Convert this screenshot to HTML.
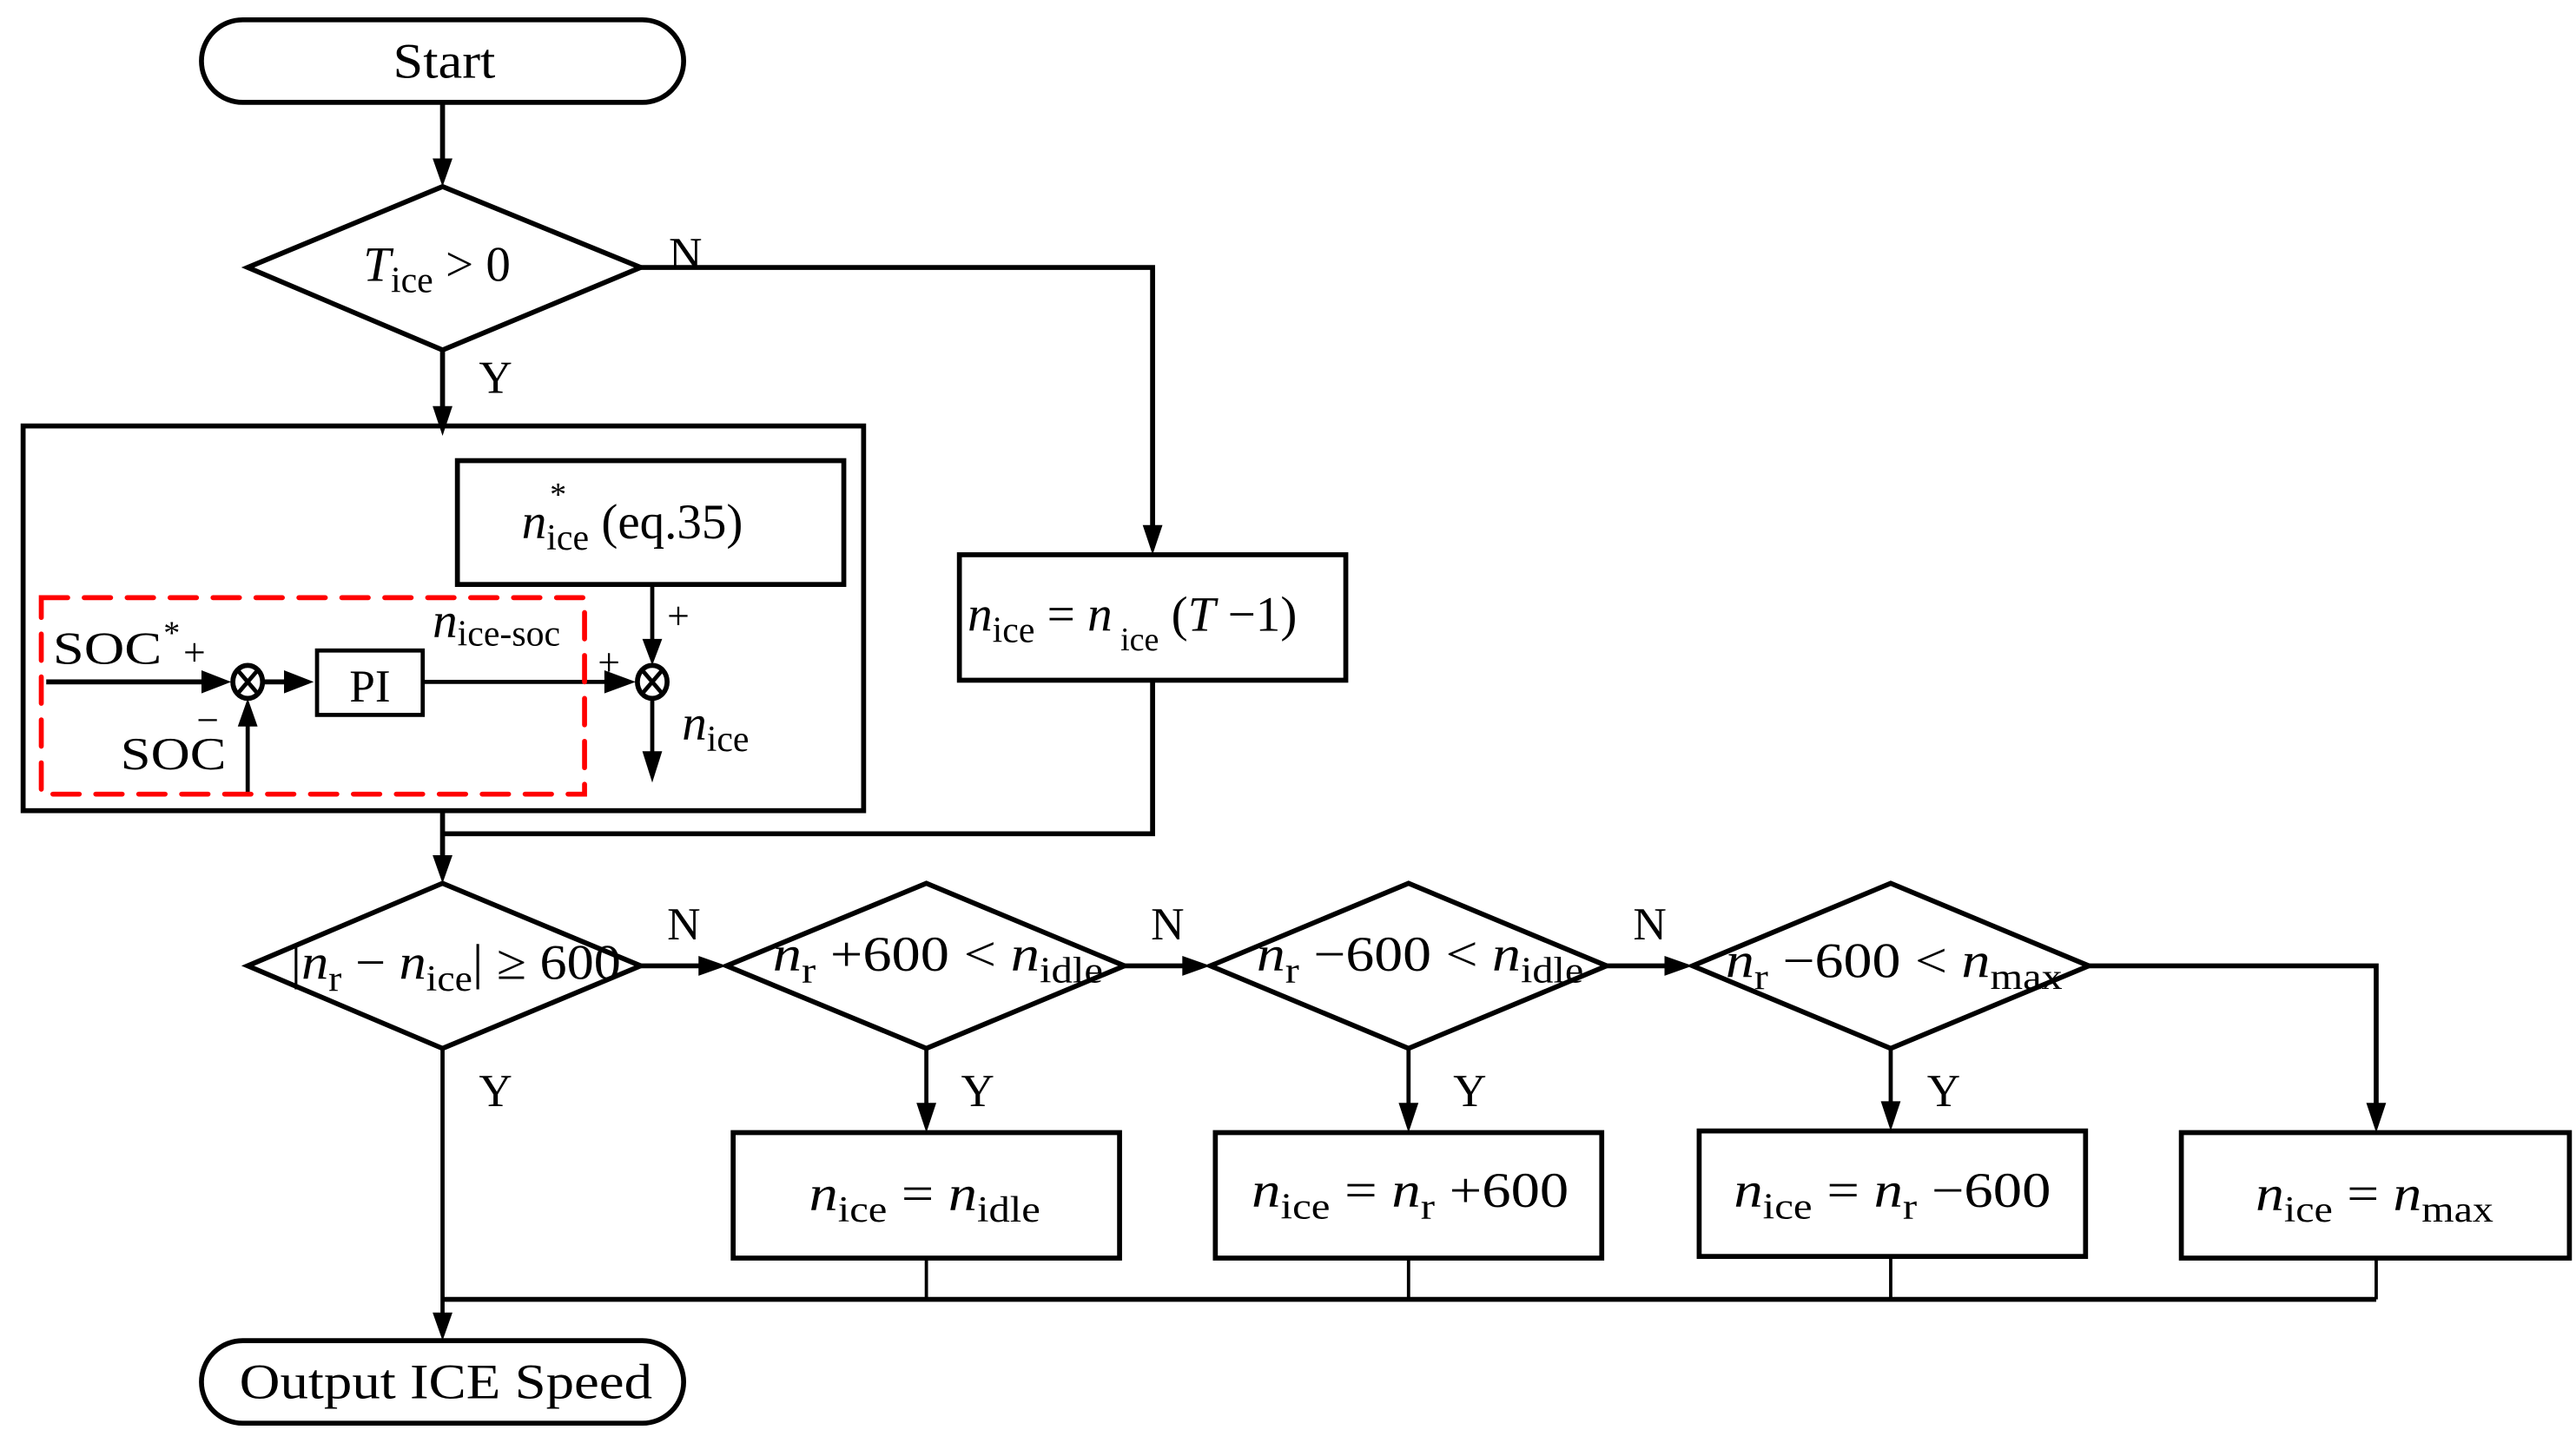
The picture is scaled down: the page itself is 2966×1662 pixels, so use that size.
<!DOCTYPE html>
<html><head><meta charset="utf-8"><style>
html,body{margin:0;padding:0;background:#fff;}
svg{display:block;}
text{font-family:"Liberation Serif",serif;fill:#000;}
.i{font-style:italic;}
</style></head><body>
<svg width="2966" height="1662" viewBox="0 0 1560 874" preserveAspectRatio="none" xmlns="http://www.w3.org/2000/svg">
<g fill="none" stroke="#000" stroke-width="3">
<rect x="122" y="12" width="292" height="50" rx="25"/>
<polygon points="150,162 268,113 388,162 268,212"/>
<rect x="14" y="258" width="509" height="233"/>
<rect x="277" y="279" width="234" height="75"/>
<rect x="192" y="394" width="64" height="39" stroke-width="2.5"/>
<rect x="581" y="336" width="234" height="76"/>
<polygon points="150,585 268,535 388,585 268,635"/>
<polygon points="440,585 561,535 681,585 561,635"/>
<polygon points="733,585 853,535 973,585 853,635"/>
<polygon points="1025,585 1145,535 1265,585 1145,635"/>
<rect x="444" y="686" width="234" height="76"/>
<rect x="736" y="686" width="234" height="76"/>
<rect x="1029" y="685" width="234" height="76"/>
<rect x="1321" y="686" width="235" height="76"/>
<rect x="122" y="812" width="292" height="50" rx="25"/>
<polyline points="268,62 268,100"/>
<polyline points="268,212 268,248"/>
<polyline points="388,162 698,162 698,322"/>
<polyline points="698,412 698,505 268,505"/>
<polyline points="268,491 268,522"/>
<polyline points="388,585 428,585"/>
<polyline points="681,585 721,585"/>
<polyline points="973,585 1013,585"/>
<polyline points="1265,585 1439,585 1439,672"/>
<polyline points="561,635 561,672" stroke-width="2.5"/>
<polyline points="853,635 853,672" stroke-width="2.5"/>
<polyline points="1145,635 1145,671" stroke-width="2.5"/>
<polyline points="268,635 268,798" stroke-width="2.5"/>
<polyline points="561,762 561,787" stroke-width="2"/>
<polyline points="853,762 853,787" stroke-width="2"/>
<polyline points="1145,761 1145,787" stroke-width="2"/>
<polyline points="1439,762 1439,787" stroke-width="2"/>
<polyline points="268,787 1439,787"/>
<polyline points="28,413 126,413"/>
<polyline points="160,413 180,413"/>
<polyline points="256,413 372,413" stroke-width="2.5"/>
<polyline points="395,354 395,392" stroke-width="2.5"/>
<polyline points="395,423 395,460" stroke-width="2.5"/>
<polyline points="150,480 150,436" stroke-width="2.5"/>
<ellipse cx="150" cy="413" rx="9" ry="10"/>
<ellipse cx="395" cy="413" rx="9" ry="10"/>
<line x1="144" y1="406" x2="156" y2="420" stroke-width="2.5"/>
<line x1="156" y1="406" x2="144" y2="420" stroke-width="2.5"/>
<line x1="389" y1="406" x2="401" y2="420" stroke-width="2.5"/>
<line x1="401" y1="406" x2="389" y2="420" stroke-width="2.5"/>
</g>
<rect x="25" y="362" width="329" height="119" fill="none" stroke="#f00" stroke-width="3" stroke-dasharray="16,10" stroke-linecap="round"/>
<g fill="#000">
<polygon points="262,96 274,96 268,113"/>
<polygon points="262,246 274,246 268,264"/>
<polygon points="692,318 704,318 698,336"/>
<polygon points="262,518 274,518 268,535"/>
<polygon points="423,579 423,591 440,585"/>
<polygon points="716,579 716,591 733,585"/>
<polygon points="1008,579 1008,591 1025,585"/>
<polygon points="555,668 567,668 561,686"/>
<polygon points="847,668 859,668 853,686"/>
<polygon points="1139,667 1151,667 1145,685"/>
<polygon points="1433,668 1445,668 1439,686"/>
<polygon points="262,795 274,795 268,812"/>
<polygon points="122,406 122,420 140,413"/>
<polygon points="172,406 172,420 190,413"/>
<polygon points="366,406 366,420 385,413"/>
<polygon points="389,387 401,387 395,403"/>
<polygon points="389,455 401,455 395,474"/>
<polygon points="144,440 156,440 150,423"/>
</g>
<g font-size="30">
<text x="238" y="47" textLength="62" lengthAdjust="spacingAndGlyphs">Start</text>
<text x="220" y="170"><tspan class="i">T</tspan><tspan font-size="22" dy="7">ice</tspan><tspan dy="-7"> &gt; 0</tspan></text>
<text x="405" y="163" font-size="28">N</text>
<text x="290" y="238" font-size="28">Y</text>
<text x="316" y="326"><tspan class="i">n</tspan><tspan font-size="22" dy="7">ice</tspan><tspan dy="-7"> (eq.35)</tspan></text>
<text x="333" y="306" font-size="20">*</text>
<text x="586" y="382"><tspan class="i">n</tspan><tspan font-size="22" dy="7">ice</tspan><tspan dy="-7"> = </tspan><tspan class="i">n</tspan><tspan font-size="20" dy="12"> ice</tspan><tspan dy="-12"> (</tspan><tspan class="i">T</tspan><tspan> −1)</tspan></text>
<text x="32" y="402" font-size="28" textLength="66" lengthAdjust="spacingAndGlyphs">SOC</text>
<text x="99" y="390" font-size="20">*</text>
<text x="111" y="403" font-size="24">+</text>
<text x="119" y="444" font-size="24">−</text>
<text x="73" y="466" font-size="28" textLength="64" lengthAdjust="spacingAndGlyphs">SOC</text>
<text x="224" y="425" text-anchor="middle" font-size="28">PI</text>
<text x="262" y="386"><tspan class="i">n</tspan><tspan font-size="22" dy="5">ice-soc</tspan></text>
<text x="362" y="409" font-size="24">+</text>
<text x="404" y="381" font-size="24">+</text>
<text x="413" y="448"><tspan class="i">n</tspan><tspan font-size="22" dy="7">ice</tspan></text>
<text x="176" y="593" textLength="200" lengthAdjust="spacingAndGlyphs"><tspan>|</tspan><tspan class="i">n</tspan><tspan font-size="22" dy="7">r</tspan><tspan dy="-7"> − </tspan><tspan class="i">n</tspan><tspan font-size="22" dy="7">ice</tspan><tspan dy="-7">| ≥ 600</tspan></text>
<text x="468" y="588" textLength="200" lengthAdjust="spacingAndGlyphs"><tspan class="i">n</tspan><tspan font-size="22" dy="7">r</tspan><tspan dy="-7"> +600 &lt; </tspan><tspan class="i">n</tspan><tspan font-size="22" dy="7">idle</tspan></text>
<text x="761" y="588" textLength="198" lengthAdjust="spacingAndGlyphs"><tspan class="i">n</tspan><tspan font-size="22" dy="7">r</tspan><tspan dy="-7"> −600 &lt; </tspan><tspan class="i">n</tspan><tspan font-size="22" dy="7">idle</tspan></text>
<text x="1045" y="592" textLength="204" lengthAdjust="spacingAndGlyphs"><tspan class="i">n</tspan><tspan font-size="22" dy="7">r</tspan><tspan dy="-7"> −600 &lt; </tspan><tspan class="i">n</tspan><tspan font-size="22" dy="7">max</tspan></text>
<text x="404" y="569" font-size="28">N</text>
<text x="697" y="569" font-size="28">N</text>
<text x="989" y="569" font-size="28">N</text>
<text x="290" y="670" font-size="28">Y</text>
<text x="582" y="670" font-size="28">Y</text>
<text x="880" y="670" font-size="28">Y</text>
<text x="1167" y="670" font-size="28">Y</text>
<text x="490" y="733" textLength="140" lengthAdjust="spacingAndGlyphs"><tspan class="i">n</tspan><tspan font-size="22" dy="7">ice</tspan><tspan dy="-7"> = </tspan><tspan class="i">n</tspan><tspan font-size="22" dy="7">idle</tspan></text>
<text x="758" y="731" textLength="192" lengthAdjust="spacingAndGlyphs"><tspan class="i">n</tspan><tspan font-size="22" dy="7">ice</tspan><tspan dy="-7"> = </tspan><tspan class="i">n</tspan><tspan font-size="22" dy="7">r</tspan><tspan dy="-7"> +600</tspan></text>
<text x="1050" y="731" textLength="192" lengthAdjust="spacingAndGlyphs"><tspan class="i">n</tspan><tspan font-size="22" dy="7">ice</tspan><tspan dy="-7"> = </tspan><tspan class="i">n</tspan><tspan font-size="22" dy="7">r</tspan><tspan dy="-7"> −600</tspan></text>
<text x="1366" y="733" textLength="144" lengthAdjust="spacingAndGlyphs"><tspan class="i">n</tspan><tspan font-size="22" dy="7">ice</tspan><tspan dy="-7"> = </tspan><tspan class="i">n</tspan><tspan font-size="22" dy="7">max</tspan></text>
<text x="145" y="847" textLength="250" lengthAdjust="spacingAndGlyphs">Output ICE Speed</text>
</g>
</svg>
</body></html>
